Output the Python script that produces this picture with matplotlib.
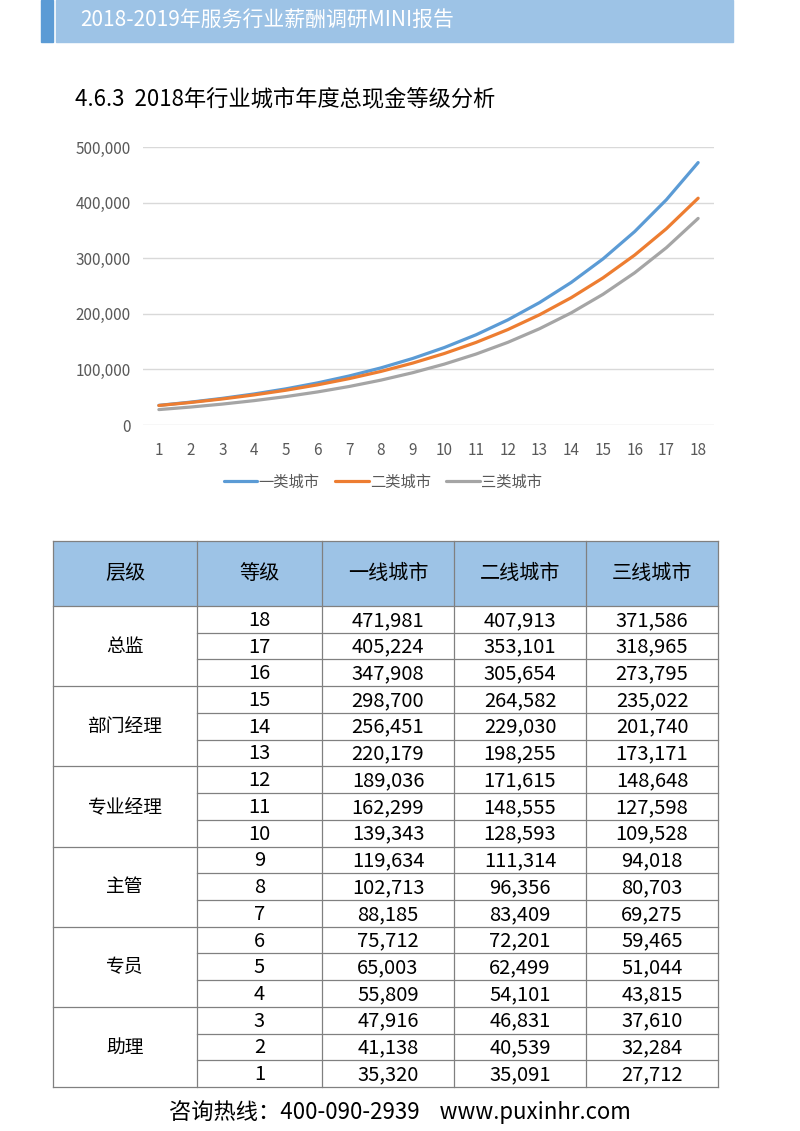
import matplotlib
matplotlib.use('Agg')
from matplotlib import pyplot as plt
from matplotlib.patches import Rectangle
from matplotlib.ticker import FuncFormatter

plt.rcParams['font.family'] = ['Noto Sans CJK SC', 'DejaVu Sans']

grades = list(range(1, 19))
tier1 = [35320, 41138, 47916, 55809, 65003, 75712, 88185, 102713, 119634,
         139343, 162299, 189036, 220179, 256451, 298700, 347908, 405224, 471981]
tier2 = [35091, 40539, 46831, 54101, 62499, 72201, 83409, 96356, 111314,
         128593, 148555, 171615, 198255, 229030, 264582, 305654, 353101, 407913]
tier3 = [27712, 32284, 37610, 43815, 51044, 59465, 69275, 80703, 94018,
         109528, 127598, 148648, 173171, 201740, 235022, 273795, 318965, 371586]

series_names = ['一类城市', '二类城市', '三类城市']
series_colors = ['#5B9BD5', '#ED7D31', '#A5A5A5']

levels = ['总监', '部门经理', '专业经理', '主管', '专员', '助理']
table_header = ['层级', '等级', '一线城市', '二线城市', '三线城市']

W, H = 800, 1131
fig = plt.figure(figsize=(W / 100, H / 100), dpi=100)

# page overlay in pixel coordinates
page = fig.add_axes([0, 0, 1, 1])
page.set_xlim(0, W)
page.set_ylim(H, 0)
page.axis('off')

# header bar
page.add_patch(Rectangle((41, 0), 12, 42, color='#5B9BD5'))
page.add_patch(Rectangle((56, 0), 677, 42, color='#9DC3E6'))
page.text(80, 21, '2018-2019年服务行业薪酬调研MINI报告', color='white',
          fontsize=15, va='center', ha='left')

page.text(75, 99, '4.6.3  2018年行业城市年度总现金等级分析', color='black',
          fontsize=16, va='center', ha='left')

# line chart
x0, x1 = 143, 714
y_top, y_bot = 147, 425
ax = fig.add_axes([x0 / W, 1 - y_bot / H, (x1 - x0) / W, (y_bot - y_top) / H])
for vals, name, col in zip([tier1, tier2, tier3], series_names, series_colors):
    ax.plot(grades, vals, color=col, lw=2.3, label=name, solid_capstyle='round')
ax.set_xlim(0.5, 18.5)
ax.set_ylim(0, 500000)
ax.set_xticks(grades)
ax.set_yticks(range(0, 500001, 100000))
ax.yaxis.set_major_formatter(FuncFormatter(lambda v, p: '{:,.0f}'.format(v)))
ax.grid(axis='y', color='#D9D9D9', lw=1)
ax.set_axisbelow(True)
for s in ax.spines.values():
    s.set_visible(False)
ax.tick_params(length=0, labelsize=11, colors='#595959', pad=9)
ax.tick_params(axis='x', pad=12)
ax.patch.set_alpha(0)

fig.legend(*ax.get_legend_handles_labels(), loc='center', ncol=3,
           bbox_to_anchor=(383 / W, 1 - 482 / H), frameon=False,
           fontsize=11, handlelength=2.2, columnspacing=1.0, handletextpad=0.1,
           labelcolor='#595959')

# table
cols = [53, 197, 322, 454, 586, 718]
t_top, h_bot, t_bot = 541, 606, 1087
row_h = (t_bot - h_bot) / 18
line_col = '#808080'

page.add_patch(Rectangle((cols[0], t_top), cols[-1] - cols[0], h_bot - t_top,
                         facecolor='#9DC3E6', edgecolor='none'))
for i, lab in enumerate(table_header):
    page.text((cols[i] + cols[i + 1]) / 2, (t_top + h_bot) / 2, lab,
              ha='center', va='center', fontsize=14.5)

for c in cols:
    page.plot([c, c], [t_top, t_bot], color=line_col, lw=0.9)
page.plot([cols[0], cols[-1]], [t_top, t_top], color=line_col, lw=0.9)
page.plot([cols[0], cols[-1]], [h_bot, h_bot], color=line_col, lw=0.9)

rows = list(range(18, 0, -1))
for r, g in enumerate(rows):
    yt = h_bot + r * row_h
    yc = yt + row_h / 2
    idx = g - 1
    page.text((cols[1] + cols[2]) / 2, yc + 1, str(g), ha='center', va='center', fontsize=14.5)
    for k, vals in enumerate([tier1, tier2, tier3]):
        page.text((cols[k + 2] + cols[k + 3]) / 2, yc + 1, '{:,}'.format(vals[idx]),
                  ha='center', va='center', fontsize=14.5)
    yb = yt + row_h
    if (r + 1) % 3 == 0:
        page.plot([cols[0], cols[-1]], [yb, yb], color=line_col, lw=0.9)
    else:
        page.plot([cols[1], cols[-1]], [yb, yb], color=line_col, lw=0.9)

for j, lab in enumerate(levels):
    yc = h_bot + (j * 3 + 1.5) * row_h
    page.text((cols[0] + cols[1]) / 2, yc, lab, ha='center', va='center', fontsize=13.5)

# footer
page.text(400, 1112, '咨询热线：400-090-2939    www.puxinhr.com', ha='center',
          va='center', fontsize=16)

fig.savefig('out.png', dpi=100)
